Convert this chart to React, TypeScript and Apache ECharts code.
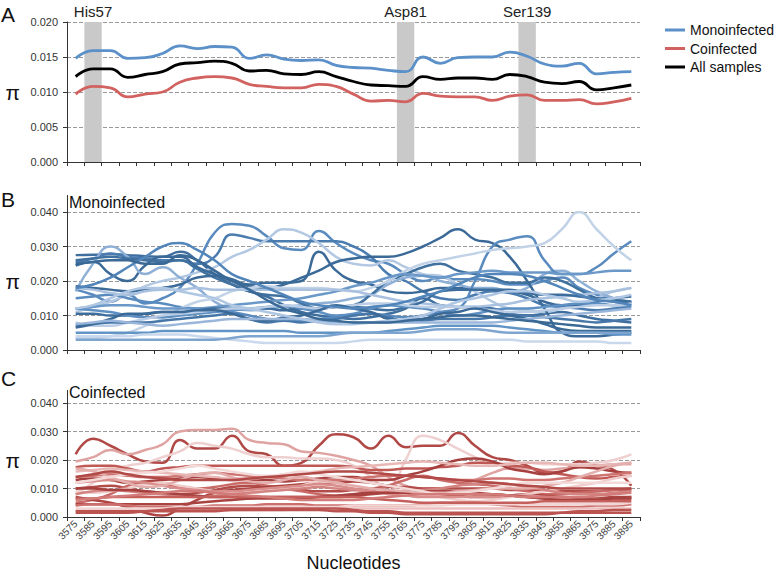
import React, { useEffect, useRef } from 'react';
import * as echarts from 'echarts';

const FONT = '"Liberation Sans", Arial, Helvetica, sans-serif';

// Nucleotide positions (category labels)
const nucleotides = [
  '3575', '3585', '3595', '3605', '3615', '3625', '3635', '3645', '3655', '3665', '3675',
  '3685', '3695', '3705', '3715', '3725', '3735', '3745', '3755', '3765', '3775', '3785',
  '3795', '3805', '3815', '3825', '3835', '3845', '3855', '3865', '3875', '3885', '3895',
];

// Panel A: mean nucleotide diversity (π)
const monoinfectedMean = [
  0.0148, 0.0159, 0.0159, 0.0148, 0.0149, 0.0155, 0.0166, 0.0162, 0.0165, 0.0164, 0.0148,
  0.0153, 0.0147, 0.0145, 0.0146, 0.0138, 0.0135, 0.0134, 0.0131, 0.0129, 0.0150, 0.0141,
  0.0149, 0.0150, 0.0150, 0.0157, 0.0151, 0.0140, 0.0137, 0.0141, 0.0126, 0.0128, 0.0129,
];
const coinfectedMean = [
  0.0097, 0.0108, 0.0106, 0.0093, 0.0097, 0.0100, 0.0114, 0.0120, 0.0122, 0.0120, 0.0111,
  0.0108, 0.0106, 0.0106, 0.0111, 0.0108, 0.0097, 0.0087, 0.0088, 0.0086, 0.0098, 0.0094,
  0.0093, 0.0093, 0.0088, 0.0094, 0.0096, 0.0088, 0.0088, 0.0089, 0.0083, 0.0086, 0.0091,
];
const allSamplesMean = [
  0.0122, 0.0133, 0.0133, 0.0121, 0.0125, 0.0129, 0.0140, 0.0142, 0.0144, 0.0141, 0.0130,
  0.0131, 0.0126, 0.0125, 0.0129, 0.0122, 0.0115, 0.0110, 0.0109, 0.0108, 0.0122, 0.0118,
  0.0120, 0.0120, 0.0118, 0.0125, 0.0122, 0.0114, 0.0112, 0.0115, 0.0103, 0.0106, 0.0110,
];

// Highlighted residues
const siteLabels = ['His57', 'Asp81', 'Ser139'];
const siteCategories = ['3585', '3765', '3835'];
const bandTop = 0.02;

// Panel B: individual monoinfected samples (π × 1000)
const monoSamples: number[][] = [
  [27.5, 27.6, 27.8, 27.5, 27.2, 27.0, 28.5, 26, 22, 19, 17, 15.5, 13, 11, 10, 9.5, 9, 9.5, 10.5, 12, 15, 13, 12.5, 12.5, 12, 10.5, 10, 10.5, 11, 10, 9, 8.5, 8],
  [17.5, 16, 14, 16, 13.5, 15, 18, 25, 34, 36.5, 36, 33, 29.5, 29, 34.5, 31, 28, 26, 25, 22, 20, 21, 20.5, 20.5, 20, 19, 19, 20, 21, 18, 16, 14.5, 14],
  [25.5, 26.5, 28, 27, 26.5, 26, 26, 25, 27, 33.5, 32.5, 31.5, 31.5, 31.5, 31.5, 31.5, 30, 27, 22, 20, 17, 15, 14.5, 16, 17, 16.5, 15, 13, 12.5, 12, 11.5, 12, 12.5],
  [11, 12.5, 14, 16, 18.5, 20, 21, 22.5, 24, 27, 29, 32, 35, 34, 31, 27, 25, 24.5, 26, 24, 22, 21.5, 19, 17, 14, 12, 11.5, 11, 12, 13.5, 15, 17, 18],
  [24.5, 25.5, 22, 20, 24.5, 27, 27, 24, 22, 20.5, 19, 19.5, 19.5, 20, 28.5, 23, 20, 19, 17, 16.5, 17, 18, 18, 17.5, 17.5, 17, 16, 14, 13, 13, 14, 15, 15.5],
  [17, 25, 30, 27, 22, 24, 21, 18, 14, 12, 11.5, 12, 12.5, 13, 13.5, 14, 15, 16, 19, 21, 21.5, 20, 19, 18, 18, 17, 18, 22, 23, 20, 17, 15, 14],
  [26, 26.5, 27, 26.5, 26, 25.5, 26, 23.5, 21, 19, 17, 16, 15.5, 13.5, 12, 12.5, 13, 16, 20, 22, 24, 25, 23, 22, 21, 19.5, 19.5, 21, 20, 17.5, 15, 14, 13.5],
  [18.5, 18, 17.5, 17, 17.5, 18, 19, 21, 21.5, 20, 18.5, 18, 19, 21, 23, 25.5, 26.5, 27, 27, 28, 30, 32.5, 35, 32, 31, 27, 20, 12, 5, 4, 4, 4.5, 5],
  [15, 15.5, 16, 15, 14, 13.5, 12.5, 12, 11.5, 11, 10, 9, 8.5, 8.5, 9, 9.5, 10, 10.5, 10, 9.5, 10, 11, 12, 20, 30, 32, 33, 26, 22, 22, 24, 28, 31.5],
  [3.5, 3.5, 4, 5, 7, 9, 12, 14, 15, 17, 18, 18.5, 18, 18, 18, 17.5, 17, 18, 20, 23, 25, 26, 27, 28, 29, 29.5, 30, 31, 35, 40, 35, 30, 26],
  [12, 12.5, 13, 13, 12.5, 12, 12, 12, 12.5, 13, 13.5, 14, 14.5, 15, 16, 17, 18.5, 19.5, 21, 22, 21.5, 21, 22, 22.5, 23, 22.5, 22.5, 22.5, 22, 22, 22.5, 23, 23],
  [18, 17.5, 16.5, 16, 17, 17.5, 17.5, 18, 17.5, 17.5, 17.5, 17.5, 17.5, 17.5, 17.5, 17.5, 17, 16, 15, 14, 13.5, 13, 12.5, 12.5, 13, 13.5, 14.5, 15, 15.5, 16, 16.5, 17, 18],
  [10.5, 10.5, 10, 10, 10.5, 11, 11, 11.5, 12, 12, 12, 12, 11.5, 12, 12, 12.5, 12.5, 12, 11.5, 12.5, 14, 17, 17.5, 17.5, 17.5, 17.5, 16.5, 16, 16, 15.5, 15, 14.5, 14],
  [12, 11.5, 11, 10, 9.5, 9.5, 10, 10.5, 11, 11.5, 12, 12.5, 13, 12, 11, 10, 10.5, 12, 13, 12.5, 12, 11, 10, 10.5, 11.5, 12, 12, 12.5, 13, 13.5, 13.5, 13, 13],
  [8, 7, 7, 8, 9, 10, 10.5, 11, 11.5, 12, 12, 12.5, 13, 12.5, 12, 12.5, 13, 13.5, 13.5, 13, 12.5, 12.5, 12.5, 12, 11.5, 11, 11, 11.5, 12, 12.5, 13, 13, 13.5],
  [7, 7.5, 8, 8, 8, 8.5, 9, 9.5, 10, 10.5, 9, 8, 8.5, 8, 8.5, 9, 10, 10.5, 9.5, 8.5, 8.5, 9, 9, 9, 9.5, 10, 10, 9.5, 9, 8.5, 8, 8.5, 9],
  [6.5, 7.5, 9, 10.5, 10.5, 11, 11, 11.5, 11.5, 10.5, 9, 8.5, 9.5, 10, 11.5, 13, 12, 11, 9, 8.5, 9, 10.5, 11, 12, 11, 10, 9, 7.5, 6, 5.5, 5.5, 5.5, 5.5],
  [7.5, 8, 8.5, 8, 7.5, 7, 7.5, 8, 8.5, 9, 9, 9, 9, 9, 8.5, 8, 8, 8, 8, 8, 8, 8, 8, 8, 8, 8.5, 9, 9.5, 10, 10.5, 11, 11.5, 12],
  [5, 5, 5, 5, 5, 5.5, 5.5, 5.5, 5.5, 5.5, 5.5, 5.5, 5.5, 5, 5, 5, 5, 5, 5.5, 6, 6.5, 7, 7, 7, 7, 6.5, 6, 5.5, 5, 5, 5, 4.5, 4.5],
  [4, 4, 4, 4, 4.5, 4.5, 4.5, 4, 3.5, 3, 2.5, 2, 2, 2, 2, 2, 2.5, 3, 3, 3, 3, 3, 3, 3, 3, 3, 2.5, 2.5, 2.5, 2.5, 2.5, 2, 2],
  [3, 3, 3, 3, 3, 3, 3, 3, 3, 3.5, 4, 4, 4, 4, 4, 4.5, 5, 5, 5, 5, 5.5, 6, 6, 6, 5.5, 5, 5, 5, 5, 5, 5, 5, 5],
  [12, 13, 15, 17, 18, 18, 17, 16, 15, 13, 12, 11, 10, 9, 8, 7.5, 7.5, 8, 8.5, 9, 10, 12, 14, 15, 16, 17, 17, 16, 15, 14, 14.5, 15, 16],
  [18, 19, 21, 24, 27, 30, 31, 29, 26, 22, 20, 18, 16, 14, 13, 12.5, 12, 12.5, 13, 14, 15.5, 17, 19, 21, 22, 22, 21.5, 20, 18, 16, 14.5, 14, 13],
  [25, 25.5, 26, 26, 25, 25, 27.5, 26, 23, 20, 17.5, 14.5, 12, 10.5, 9, 8.5, 8, 8, 8, 8.5, 9, 9.5, 10, 10, 9.5, 9, 8.5, 8, 7.5, 7, 6.5, 6.5, 6.5],
];
const monoColors = [
  '#3f6f9f', '#5a8bbf', '#4a7cb0', '#b3c8e2', '#3b6a98', '#8fb0d6', '#40719f', '#3b6a98',
  '#5a8bbf', '#c2d3e8', '#6a98c8', '#a9c1df', '#3d6d9c', '#5e90c3', '#bccee6', '#4677a8',
  '#3b6a98', '#9ab6da', '#6294c6', '#c9d8ec', '#7ea5d0', '#b0c7e3', '#5285b9', '#3a6996',
];

// Panel C: individual coinfected samples (π × 1000)
const coSamples: number[][] = [
  [22, 27.5, 25, 22, 19.5, 19, 27, 24, 24, 28.5, 23, 22, 18, 19, 25, 29, 28, 24, 28.5, 24.5, 25, 25, 29.5, 25, 21, 20, 18, 15.5, 16, 19.5, 18, 16.5, 11],
  [19.5, 21, 23.5, 22, 23.5, 25.5, 30, 30.5, 30.5, 31, 27, 26, 25.5, 23, 22.5, 21.5, 20, 18, 14, 11, 10, 10, 11, 13, 15.5, 17, 17, 16.5, 17, 17.5, 18, 18.5, 18.5],
  [8, 12, 16, 18, 19, 21, 23, 26, 25, 24, 22, 21, 21, 20.5, 20.5, 20, 18, 14, 9, 20, 28.5, 27, 24, 21, 18, 19, 19, 18.5, 18.5, 18.5, 19, 20, 22],
  [17.5, 18, 18, 17, 16, 17, 17.5, 18, 18, 18, 18, 18, 18, 18, 18, 18, 17.5, 16.5, 16.5, 17, 17, 17.5, 18, 19, 19, 18, 17.5, 16, 15, 14, 13.5, 14, 14.5],
  [13, 13.5, 13, 12, 12.5, 13, 13.5, 14, 13.5, 13, 13, 13, 12.5, 13, 13.5, 14, 14, 13, 13, 14.5, 16, 18, 20, 20.5, 19.5, 17, 16, 15, 16, 17.5, 17, 16, 15.5],
  [14, 14.5, 15, 14.5, 14, 14, 14.5, 15, 15.5, 15, 14.5, 14, 13.5, 13, 13, 13, 13.5, 14, 14.5, 14.5, 14, 13.5, 13, 13, 13.5, 13.5, 13, 13, 13.5, 14, 14.5, 15, 15.5],
  [16, 16.5, 17, 16.5, 16, 15.5, 15, 14.5, 14, 13.5, 13.5, 14, 15, 15.5, 16, 17, 17.5, 18, 18.5, 19, 19.5, 19, 18.5, 18, 18, 18.5, 19, 19, 18.5, 18, 18, 18.5, 19],
  [10, 10.5, 11, 10, 9, 8.5, 8, 8.5, 9.5, 10.5, 11, 10.5, 10, 9.5, 9, 9, 9.5, 10, 10.5, 10.5, 10, 10, 10, 10, 10, 9.5, 9.5, 9.5, 9, 9, 9, 9.5, 9.5],
  [5, 6, 8, 11, 12, 11.5, 10.5, 10, 10.5, 11.5, 12, 11, 10, 9, 8, 7.5, 8, 9, 11, 13, 14.5, 13, 12, 11.5, 11, 10, 9, 8, 8, 8.5, 9, 9.5, 10],
  [7, 6, 5, 3.5, 1.5, 0.5, 3, 6, 8.5, 9.5, 10, 10.5, 11, 11.5, 12, 12, 12.5, 12, 11, 10, 9, 8, 7.5, 7, 7, 7.5, 8, 7.5, 7, 6.5, 6.5, 7, 7],
  [9, 8.5, 9, 10, 11.5, 12, 11, 10, 9, 8.5, 8.5, 9, 10, 11, 12.5, 12, 11, 10, 9, 8.5, 8, 7, 6, 5.5, 6, 7, 8, 9, 10, 11, 12, 13.5, 14.5],
  [8, 9, 9.5, 9, 8.5, 8, 7.5, 7, 7.5, 8, 8.5, 9, 9.5, 10, 10.5, 10, 9.5, 9, 8.5, 9, 9.5, 10, 11, 11.5, 12, 11.5, 10.5, 9.5, 8.5, 8, 8, 8.5, 9],
  [4.5, 4.5, 4.5, 4.5, 4.5, 4.5, 4.5, 5, 5.5, 6, 6.5, 7, 7, 7, 7, 7, 7.5, 8, 8.5, 9, 9, 9, 9, 8.5, 8, 7.5, 7, 6.5, 6, 6, 6, 6.5, 7],
  [4, 4.5, 4.5, 4, 3.5, 3.5, 3.5, 3.5, 4, 4, 4, 4.5, 4.5, 4.5, 4, 4, 4, 4, 4, 4, 4.5, 5, 5, 5, 4.5, 4, 3.5, 3.5, 3.5, 3.5, 4, 4, 4.5],
  [2.5, 2.5, 2.5, 2.5, 2.5, 2.5, 2.5, 2.5, 2.5, 2.5, 2.5, 2.5, 2.5, 3, 3, 3, 3, 3, 3, 3, 3, 3, 3, 3, 3, 3, 3, 3, 3, 3, 3, 3, 3],
  [2, 2, 2, 2, 2, 2, 2, 2, 2, 2.5, 2.5, 2.5, 2.5, 2.5, 2.5, 2, 2, 1.5, 1.5, 1, 1, 1, 1, 1, 1, 1, 1, 1, 1.5, 2, 2, 2.5, 2.5],
  [3, 3, 3, 3, 3, 3, 3.5, 3.5, 3.5, 3.5, 3.5, 3.5, 3.5, 3.5, 3.5, 3.5, 4, 4, 4, 4, 4, 4, 4.5, 4.5, 4.5, 4.5, 4.5, 4.5, 4.5, 4.5, 4.5, 4.5, 5],
  [12, 12.5, 13, 12.5, 12, 11, 10, 9.5, 9, 9, 9.5, 10, 10.5, 11, 11.5, 11, 10, 9, 8, 7.5, 7, 7, 7, 7, 7, 7.5, 7.5, 7, 6.5, 6, 6, 6, 6.5],
  [10, 10, 9.5, 9.5, 9, 8.5, 8, 7.5, 7, 7, 6.5, 6.5, 6.5, 6.5, 7, 7.5, 8, 8.5, 8.5, 8.5, 8.5, 8.5, 8.5, 8, 8, 7.5, 7, 6.5, 6, 6, 6, 6.5, 6.5],
  [6.5, 6.5, 7, 7, 7, 7, 7, 7, 7, 7, 7, 7, 7, 7, 7, 7, 7, 6.5, 6, 5.5, 5, 5, 5, 5, 5, 5, 5, 5.5, 5.5, 5.5, 5.5, 5.5, 5.5],
  [17, 16, 14, 12, 10.5, 11, 13, 15, 15.5, 14, 12.5, 12, 13, 14, 13, 12, 11, 10, 9.5, 9, 8.5, 8.5, 9, 9.5, 10, 10, 10, 11, 12, 14, 16, 18, 19],
  [12, 13, 14, 15, 15.5, 16, 17, 18, 17, 16, 15, 14.5, 15, 16, 15, 14, 13, 12, 11, 10, 9, 8, 8.5, 9, 10, 11, 12, 12, 12, 12, 12, 12, 12],
  [14, 15, 16, 15, 14, 13.5, 13, 13, 13, 13, 13.5, 14, 14.5, 15, 15.5, 16, 16, 15.5, 15, 14.5, 14, 13.5, 13, 12.5, 12, 11.5, 11, 10.5, 10, 10, 10, 10, 10],
  [6, 6.5, 7, 7.5, 8, 8.5, 9, 9, 8.5, 8, 7.5, 7, 6.5, 6, 6, 6, 6, 6.5, 7, 7.5, 8, 8, 8, 8, 8, 7.5, 7, 7, 7, 7, 7.5, 8, 8.5],
  [1.5, 1.5, 1.5, 1.5, 2, 2.5, 3, 3, 3, 3, 3, 3, 3, 3, 3, 3, 2.5, 2, 2, 1.5, 1.5, 1.5, 1.5, 1.5, 1.5, 1.5, 1.5, 1.5, 1.5, 1.5, 1.5, 1.5, 1.5],
];
const coColors = [
  '#b04845', '#dfa4a2', '#edd0cf', '#c05855', '#a5403e', '#cf7471', '#e8b8b6', '#b34b48',
  '#c96a67', '#ad4542', '#f0cccb', '#d48582', '#a94340', '#cc6e6b', '#ebc0be', '#ba524f',
  '#f2d6d5', '#d98e8c', '#a6413f', '#c45f5c', '#e3aeac', '#f3dad9', '#b14a47', '#d27b78',
  '#bb5451',
];

const AXIS = '#333333';
const GRIDS = [
  { left: 67, top: 22, width: 573, height: 140 },
  { left: 67, top: 212, width: 573, height: 138 },
  { left: 67, top: 403, width: 573, height: 117 },
];

function buildOption() {
  const yMax = [0.02, 0.04, 0.04];
  const yInt = [0.005, 0.01, 0.01];

  const xAxis = [0, 1, 2].map((g) => ({
    type: 'category',
    gridIndex: g,
    data: nucleotides,
    boundaryGap: true,
    axisLine: { show: true, lineStyle: { color: AXIS, width: 1 } },
    axisTick: { show: true, length: 4, interval: 0, lineStyle: { color: AXIS } },
    axisLabel:
      g === 2
        ? { show: true, interval: 0, rotate: 45, fontSize: 10, color: '#404040', margin: 5, fontFamily: FONT }
        : { show: false },
    splitLine: { show: false },
    name: g === 2 ? 'Nucleotides' : '',
    nameLocation: 'middle',
    nameGap: 37,
    nameTextStyle: { fontSize: 18, color: '#111', fontFamily: FONT },
  }));

  const yAxis = [0, 1, 2].map((g) => ({
    type: 'value',
    gridIndex: g,
    min: 0,
    max: yMax[g],
    interval: yInt[g],
    axisLine: { show: true, lineStyle: { color: AXIS, width: 1 } },
    axisTick: { show: true, length: 4, lineStyle: { color: AXIS } },
    axisLabel: {
      formatter: (v: number) => v.toFixed(3),
      fontSize: 11,
      color: '#333',
      margin: 9,
      fontFamily: FONT,
    },
    splitLine: { show: true, lineStyle: { type: 'dashed', color: '#9a9a9a', width: 1 } },
    name: 'π',
    nameLocation: 'middle',
    nameRotate: 0,
    nameGap: 47,
    nameTextStyle: { fontSize: 21, color: '#111', fontFamily: FONT },
  }));

  const bandData = nucleotides.map((n) => {
    const k = siteCategories.indexOf(n);
    if (k < 0) return null;
    return {
      value: bandTop,
      label: { show: true, formatter: siteLabels[k] },
    };
  });

  const series: any[] = [
    {
      name: 'sites',
      type: 'bar',
      xAxisIndex: 0,
      yAxisIndex: 0,
      data: bandData,
      barWidth: '100%',
      itemStyle: { color: '#c9c9c9' },
      z: 1,
      label: {
        show: true,
        position: 'top',
        distance: 3,
        fontSize: 15,
        color: '#222',
        fontFamily: FONT,
      },
      emphasis: { disabled: true },
    },
    {
      name: 'Monoinfected',
      type: 'line',
      xAxisIndex: 0,
      yAxisIndex: 0,
      data: monoinfectedMean,
      smooth: true,
      showSymbol: false,
      color: '#5b90c8',
      lineStyle: { width: 2.8 },
      z: 3,
    },
    {
      name: 'Coinfected',
      type: 'line',
      xAxisIndex: 0,
      yAxisIndex: 0,
      data: coinfectedMean,
      smooth: true,
      showSymbol: false,
      color: '#d2625f',
      lineStyle: { width: 2.8 },
      z: 3,
    },
    {
      name: 'All samples',
      type: 'line',
      xAxisIndex: 0,
      yAxisIndex: 0,
      data: allSamplesMean,
      smooth: true,
      showSymbol: false,
      color: '#000000',
      lineStyle: { width: 2.8 },
      z: 3,
    },
  ];

  monoSamples.forEach((s, i) => {
    series.push({
      name: 'mono-' + (i + 1),
      type: 'line',
      xAxisIndex: 1,
      yAxisIndex: 1,
      data: s.map((v) => v / 1000),
      smooth: true,
      showSymbol: false,
      color: monoColors[i % monoColors.length],
      lineStyle: { width: 2.5 },
      z: 3,
    });
  });
  coSamples.forEach((s, i) => {
    series.push({
      name: 'co-' + (i + 1),
      type: 'line',
      xAxisIndex: 2,
      yAxisIndex: 2,
      data: s.map((v) => v / 1000),
      smooth: true,
      showSymbol: false,
      color: coColors[i % coColors.length],
      lineStyle: { width: 2.5 },
      z: 3,
    });
  });

  const panelLetter = (t: string, y: number) => ({
    type: 'text',
    x: 1,
    y,
    style: { text: t, fontSize: 21, fontFamily: FONT, fill: '#111', verticalAlign: 'middle', align: 'left' },
  });
  const panelTitle = (t: string, y: number) => ({
    type: 'text',
    x: 69,
    y,
    style: { text: t, fontSize: 16, fontFamily: FONT, fill: '#111', verticalAlign: 'middle', align: 'left' },
  });
  const axisExt = (y1: number, y2: number) => ({
    type: 'line',
    shape: { x1: 67.5, y1, x2: 67.5, y2 },
    style: { stroke: AXIS, lineWidth: 1 },
  });

  return {
    animation: false,
    textStyle: { fontFamily: FONT },
    grid: GRIDS,
    legend: {
      data: ['Monoinfected', 'Coinfected', 'All samples'],
      orient: 'vertical',
      left: 660,
      top: 18,
      icon: 'rect',
      itemWidth: 20,
      itemHeight: 3,
      itemGap: 4.5,
      textStyle: { fontSize: 14, color: '#111', fontFamily: FONT },
    },
    xAxis,
    yAxis,
    series,
    graphic: [
      panelLetter('A', 14),
      panelLetter('B', 199),
      panelLetter('C', 378),
      panelTitle('Monoinfected', 202),
      panelTitle('Coinfected', 392),
      axisExt(195, 212),
      axisExt(390, 403),
    ],
  };
}

export default function App() {
  const ref = useRef<HTMLDivElement>(null);
  useEffect(() => {
    if (!ref.current) return;
    const chart = echarts.init(ref.current, undefined, { renderer: 'svg' });
    chart.setOption(buildOption() as any);
    return () => chart.dispose();
  }, []);
  return (
    <div
      ref={ref}
      style={{ position: 'fixed', left: 0, top: 0, width: 777, height: 573, background: '#ffffff' }}
    />
  );
}
